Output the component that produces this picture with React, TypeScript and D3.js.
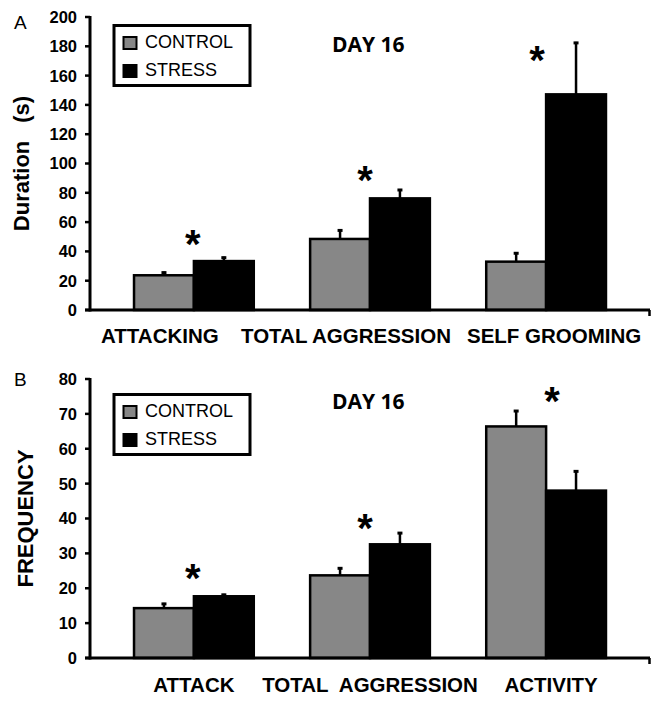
import React from "react";
import * as d3 from "d3";

// ---------- DATA ----------
const categoriesA = ["ATTACKING", "TOTAL AGGRESSION", "SELF GROOMING"];
const controlA = [23.7, 48.5, 33.0];
const controlErrA = [2.5, 6.5, 6.4];
const stressA = [33.4, 76.2, 147.2];
const stressErrA = [3.0, 6.4, 35.8];
const starA = [50.5, 94.2, 176.0];
const ticksA = [0, 20, 40, 60, 80, 100, 120, 140, 160, 180, 200];

const categoriesB = ["ATTACK", "TOTAL  AGGRESSION", "ACTIVITY"];
const controlB = [14.3, 23.7, 66.4];
const controlErrB = [1.5, 2.3, 4.7];
const stressB = [17.7, 32.6, 48.0];
const stressErrB = [0.7, 3.5, 5.8];
const starB = [25.3, 39.6, 76.0];
const ticksB = [0, 10, 20, 30, 40, 50, 60, 70, 80];

const seriesNames = ["CONTROL", "STRESS"];
const title = "DAY 16";

// ---------- LAYOUT ----------
const W = 664;
const H = 703;
const X0 = 90;
const X1 = 650;
const GRAY = "#878787";
const FONT = "'Liberation Sans', Arial, sans-serif";

type PanelProps = {
  letter: string;
  cats: string[];
  control: number[];
  controlErr: number[];
  stress: number[];
  stressErr: number[];
  stars: number[];
  starDx: number[];
  labelDx: number[];
  ticks: number[];
  yBottom: number;
  yTop: number;
  yLabel: string[];
  yLabelX: number;
  yLabelGap: number;
  labelBaseline: number;
  titleBaseline: number;
  legendTop: number;
  letterBaseline: number;
};

function Panel(p: PanelProps) {
  const max = p.ticks[p.ticks.length - 1];
  const y = d3.scaleLinear().domain([0, max]).range([p.yBottom, p.yTop]);
  const x0 = d3
    .scaleBand<string>()
    .domain(p.cats)
    .range([X0, X1])
    .paddingInner(0.32)
    .paddingOuter(0.25);
  const x1 = d3
    .scaleBand<string>()
    .domain(seriesNames)
    .range([0, x0.bandwidth()]);
  const series = [
    { name: seriesNames[0], vals: p.control, errs: p.controlErr, fill: GRAY },
    { name: seriesNames[1], vals: p.stress, errs: p.stressErr, fill: "#000" },
  ];
  const yMid = (p.yBottom + p.yTop) / 2;
  return (
    <g>
      {/* panel letter */}
      <text x={14} y={p.letterBaseline} fontSize={19} fontFamily={FONT}>
        {p.letter}
      </text>
      {/* y label */}
      <text
        transform={`translate(${p.yLabelX},${yMid}) rotate(-90)`}
        textAnchor="middle"
        fontSize={22}
        fontWeight="bold"
        fontFamily={FONT}
      >
        {p.yLabel.length > 1 ? (
          <>
            {p.yLabel[0]}
            <tspan dx={p.yLabelGap}>{p.yLabel[1]}</tspan>
          </>
        ) : (
          p.yLabel[0]
        )}
      </text>
      {/* ticks */}
      {p.ticks.map((t) => (
        <g key={t}>
          <line x1={X0 - 5} x2={X0} y1={y(t)} y2={y(t)} stroke="#000" strokeWidth={2.5} />
          <text
            x={77}
            y={y(t)}
            dy="0.36em"
            textAnchor="end"
            fontSize={16.5}
            fontWeight="bold"
            fontFamily={FONT}
          >
            {t}
          </text>
        </g>
      ))}
      {/* bars */}
      {p.cats.map((c, i) => (
        <g key={c}>
          {series.map((s) => {
            const bx = (x0(c) as number) + (x1(s.name) as number);
            const bw = x1.bandwidth();
            const cx = bx + bw / 2;
            const top = y(s.vals[i]);
            const et = y(s.vals[i] + s.errs[i]);
            return (
              <g key={s.name}>
                <line x1={cx} x2={cx} y1={top} y2={et} stroke="#000" strokeWidth={2.5} />
                <line x1={cx - 2.5} x2={cx + 2.5} y1={et + 1} y2={et + 1} stroke="#000" strokeWidth={3} />
                <rect
                  x={bx}
                  y={top}
                  width={bw}
                  height={p.yBottom - top}
                  fill={s.fill}
                  stroke="#000"
                  strokeWidth={2.5}
                />
              </g>
            );
          })}
          <text
            x={(x0(c) as number) + x0.bandwidth() / 2 + p.starDx[i]}
            y={y(p.stars[i])}
            dy={22}
            textAnchor="middle"
            fontSize={40}
            fontWeight="bold"
            fontFamily={FONT}
          >
            *
          </text>
          <text
            x={(x0(c) as number) + x0.bandwidth() / 2 + p.labelDx[i]}
            y={p.labelBaseline}
            textAnchor="middle"
            fontSize={20.5}
            fontWeight="bold"
            fontFamily={FONT}
            style={{ whiteSpace: "pre" }}
          >
            {c}
          </text>
        </g>
      ))}
      {/* axes */}
      <line x1={X0} x2={X0} y1={p.yBottom + 1.5} y2={p.yTop - 1} stroke="#000" strokeWidth={3} />
      <line x1={X0 - 5} x2={X1} y1={p.yBottom} y2={p.yBottom} stroke="#000" strokeWidth={3} />
      <line x1={X1 - 0.5} x2={X1 - 0.5} y1={p.yBottom} y2={p.yBottom + 6} stroke="#000" strokeWidth={2.5} />
      {/* title */}
      <text
        x={332}
        y={p.titleBaseline}
        fontSize={21}
        fontWeight="bold"
        fontFamily="'Open Sans', sans-serif"
      >
        {title}
      </text>
      {/* legend */}
      <g transform={`translate(114,${p.legendTop})`}>
        <rect x={0} y={0} width={136} height={60} fill="#fff" stroke="#000" strokeWidth={3} />
        {series.map((s, k) => (
          <g key={s.name} transform={`translate(0,${k * 28})`}>
            <rect x={9.5} y={11.5} width={13} height={12} fill={s.fill} stroke="#000" strokeWidth={2} />
            <text x={31} y={22} fontSize={18} fontFamily={FONT}>
              {s.name}
            </text>
          </g>
        ))}
      </g>
    </g>
  );
}

export default function App() {
  return (
    <svg
      width={W}
      height={H}
      viewBox={`0 0 ${W} ${H}`}
      style={{ position: "absolute", left: 0, top: 0, background: "#fff" }}
    >
      <rect width={W} height={H} fill="#fff" />
      <Panel
        letter="A"
        cats={categoriesA}
        control={controlA}
        controlErr={controlErrA}
        stress={stressA}
        stressErr={stressErrA}
        stars={starA}
        starDx={[-1, -5, -9]}
        labelDx={[-34, -24, 8]}
        ticks={ticksA}
        yBottom={310}
        yTop={17}
        yLabel={["Duration", "(s)"]}
        yLabelX={29}
        yLabelGap={18}
        labelBaseline={343}
        titleBaseline={52}
        legendTop={25.5}
        letterBaseline={29}
      />
      <Panel
        letter="B"
        cats={categoriesB}
        control={controlB}
        controlErr={controlErrB}
        stress={stressB}
        stressErr={stressErrB}
        stars={starB}
        starDx={[-1, -5, 6]}
        labelDx={[0, 0, 5]}
        ticks={ticksB}
        yBottom={658}
        yTop={379}
        yLabel={["FREQUENCY"]}
        yLabelX={33}
        yLabelGap={0}
        labelBaseline={692}
        titleBaseline={409}
        legendTop={394.5}
        letterBaseline={386}
      />
    </svg>
  );
}
